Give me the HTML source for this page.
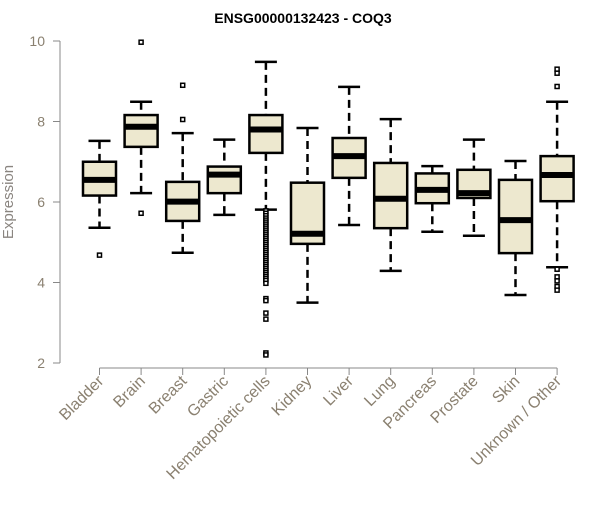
<!DOCTYPE html>
<html><head><meta charset="utf-8"><style>
body{margin:0;background:#fff;}
svg text{font-family:"Liberation Sans",Arial,sans-serif;}
</style></head><body>
<svg id="chart" width="600" height="500">
<text x="303" y="23" text-anchor="middle" font-size="14" font-weight="bold" fill="#000">ENSG00000132423 - COQ3</text>
<text transform="translate(13,202) rotate(-90)" text-anchor="middle" font-size="15" fill="#8a8580">Expression</text>
<g id="yaxis"></g>
<g id="xaxis"></g>
<g id="boxes"></g>
</svg>
<script>
const categories=["Bladder","Brain","Breast","Gastric","Hematopoietic cells","Kidney","Liver","Lung","Pancreas","Prostate","Skin","Unknown / Other"];
const whiskerLow=[5.36,6.22,4.74,5.68,5.81,3.5,5.43,4.29,5.26,5.16,3.69,4.38];
const q1=[6.16,7.37,5.53,6.22,7.22,4.96,6.6,5.35,5.97,6.1,4.73,6.02];
const medians=[6.55,7.87,6.01,6.68,7.8,5.21,7.14,6.08,6.3,6.22,5.55,6.67];
const q3=[7.0,8.16,6.5,6.88,8.16,6.48,7.59,6.97,6.71,6.8,6.55,7.14];
const whiskerHigh=[7.52,8.49,7.71,7.55,9.48,7.84,8.86,8.06,6.89,7.55,7.02,8.49];
const outliers=[[4.68],[9.97,5.72],[8.9,8.05],[],
[5.78,5.72,5.66,5.6,5.55,5.5,5.45,5.4,5.35,5.3,5.25,5.2,5.15,5.1,5.05,5.0,4.95,4.9,4.85,4.8,4.75,4.7,4.65,4.6,4.55,4.5,4.45,4.4,4.35,4.3,4.25,4.2,4.15,4.1,4.05,3.98,3.6,3.55,3.24,3.09,2.25,2.2],
[],[],[],[],[],[],[9.3,9.2,8.87,4.33,4.14,4.04,3.9,3.81]];
const yTicks=[2,4,6,8,10];
const NS="http://www.w3.org/2000/svg";
function y(v){return 363-(v-2)*40.25;}
function x(i){return 99.5+i*41.6;}
function mk(tag,attrs,parent){const e=document.createElementNS(NS,tag);for(const k in attrs)e.setAttribute(k,attrs[k]);parent.appendChild(e);return e;}
const ya=document.getElementById('yaxis'),xa=document.getElementById('xaxis'),bx=document.getElementById('boxes');
let l=mk('line',{x1:60,x2:60,y1:y(10),y2:y(2),stroke:'#888','stroke-width':1},ya);


yTicks.forEach(t=>{
 let tk=mk('line',{x1:53,x2:60,y1:y(t),y2:y(t),stroke:'#888'},ya);
 
 
 let tx=mk('text',{x:45,y:y(t)+5,'text-anchor':'end','font-size':14,fill:'#8a8070'},ya);
 tx.textContent=t;
 
 
});
let xl=mk('line',{x1:x(0),x2:x(categories.length-1),y1:368,y2:368,stroke:'#888'},xa);


categories.forEach((c,i)=>{
 const cx=x(i);
 let tk=mk('line',{x1:cx,x2:cx,y1:368,y2:375,stroke:'#888'},xa);
 
 
 let tx=mk('text',{transform:`translate(${cx+5},382) rotate(-45)`,'text-anchor':'end','font-size':16,fill:'#8a8070'},xa);
 tx.textContent=c;
 
 
 const g=mk('g',{},bx);
 
 
 mk('line',{x1:cx,x2:cx,y1:y(whiskerHigh[i]),y2:y(q3[i]),stroke:'#000','stroke-width':2.5,'stroke-dasharray':'8,5'},g);
 mk('line',{x1:cx,x2:cx,y1:y(q1[i]),y2:y(whiskerLow[i]),stroke:'#000','stroke-width':2.5,'stroke-dasharray':'8,5'},g);
 mk('line',{x1:cx-11,x2:cx+11,y1:y(whiskerHigh[i]),y2:y(whiskerHigh[i]),stroke:'#000','stroke-width':2.5},g);
 mk('line',{x1:cx-11,x2:cx+11,y1:y(whiskerLow[i]),y2:y(whiskerLow[i]),stroke:'#000','stroke-width':2.5},g);
 mk('rect',{x:cx-16.5,y:y(q3[i]),width:33,height:y(q1[i])-y(q3[i]),fill:'#ede8cf',stroke:'#000','stroke-width':2.5},g);
 mk('line',{x1:cx-16.5,x2:cx+16.5,y1:y(medians[i]),y2:y(medians[i]),stroke:'#000','stroke-width':6},g);
 outliers[i].forEach(o=>{
  let p=mk('rect',{x:cx-2,y:y(o)-2,width:4,height:4,fill:'#fff',stroke:'#000','stroke-width':1.5},g);
  
  
 });
});
</script>
</body></html>
